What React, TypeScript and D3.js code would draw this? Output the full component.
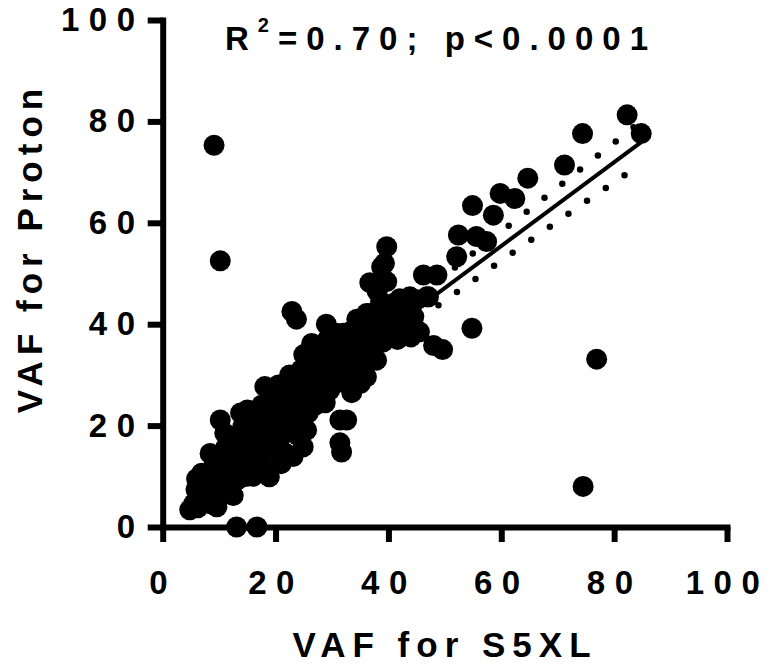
import React, { useEffect, useRef } from 'react';
import * as d3 from 'd3';

const xTicks = [0, 20, 40, 60, 80, 100];
const yTicks = [0, 20, 40, 60, 80, 100];

// [VAF for S5XL, VAF for Proton]
const denseCluster: [number, number][] = [
  [4.8, 3.4], [5.5, 4.6], [6.2, 3.8], [6.5, 6.2], [7.2, 5.0], [7.0, 8.0], [5.9, 7.4], [8.0, 6.6], [8.3, 4.6],
  [7.6, 9.6], [8.4, 14.5], [6.9, 10.6], [9.0, 8.2], [6.0, 9.5], [8.8, 11.5],
  [9.6, 4.0], [9.5, 10.8], [10.2, 21.1], [10.5, 13.5], [10.8, 9.0], [11.2, 6.8], [11.5, 16.5], [12.0, 11.5],
  [12.5, 6.2], [12.2, 14.0], [9.8, 12.5], [11.0, 18.5], [10.0, 7.0], [12.8, 9.0],
  [13.2, 17.8], [13.8, 22.5], [13.5, 9.5], [14.0, 12.5], [14.5, 15.0], [14.9, 10.0], [15.2, 18.0], [15.5, 20.5],
  [14.2, 19.8], [16.0, 13.0], [16.2, 16.5], [15.0, 23.1], [14.0, 16.5], [16.0, 10.0],
  [16.8, 21.5], [17.0, 19.0], [17.5, 24.0], [17.8, 14.8], [18.1, 27.7], [18.5, 17.0], [18.7, 11.2], [18.9, 9.9],
  [19.2, 22.5], [19.5, 26.0], [19.8, 19.5], [17.2, 12.0], [18.0, 20.5], [19.0, 15.2], [16.5, 19.0],
  [20.2, 23.5], [20.5, 28.0], [20.8, 17.5], [21.2, 21.0], [21.5, 25.5], [21.8, 14.5], [22.2, 19.0], [22.5, 30.0],
  [22.8, 24.0], [23.1, 13.9], [23.4, 27.0], [23.8, 21.5], [20.0, 20.0], [21.0, 12.5], [20.5, 15.5],
  [24.2, 25.0], [24.5, 31.0], [24.9, 15.8], [25.2, 28.5], [25.5, 19.1], [25.8, 22.5], [26.2, 33.0], [26.6, 27.0],
  [27.0, 24.0], [27.4, 30.5], [27.8, 26.5], [24.0, 18.0], [25.0, 34.0], [26.4, 36.2], [26.0, 30.0],
  [28.2, 29.0], [28.5, 33.5], [28.8, 24.5], [29.2, 37.0], [29.6, 27.0], [30.0, 31.5], [30.4, 35.0], [30.8, 38.2],
  [31.0, 28.5], [31.4, 33.0], [32.0, 38.2], [29.0, 40.0], [28.0, 31.0], [30.0, 29.0],
  [32.4, 31.0], [32.8, 35.5], [33.2, 38.5], [33.6, 29.5], [34.0, 33.5], [34.4, 41.0], [34.8, 36.5], [35.0, 28.3],
  [35.4, 32.0], [35.8, 39.0], [36.1, 42.1], [36.1, 29.6], [33.5, 26.5], [36.0, 35.0], [32.0, 34.0], [34.5, 37.5],
  [36.7, 42.1], [37.0, 37.5], [37.4, 33.5], [37.9, 32.9], [38.2, 40.0], [38.6, 44.5], [39.1, 36.5], [39.5, 41.5],
  [39.4, 38.5], [38.0, 46.5], [37.5, 39.0],
  [40.3, 43.0], [40.9, 44.1], [41.2, 39.5], [41.6, 37.0], [42.0, 42.0], [42.5, 38.0], [43.0, 44.0], [43.8, 45.4],
  [43.5, 40.0], [44.5, 41.5], [45.0, 44.8], [46.8, 45.4], [47.1, 45.4], [45.5, 38.5], [44.0, 37.5], [40.5, 40.0],
  [42.0, 45.0],
];

const upperPoints: [number, number][] = [
  [36.7, 48.2], [38.8, 51.3], [39.7, 48.4], [39.7, 55.3], [39.3, 52.0],
  [46.2, 49.7], [48.6, 49.7], [52.4, 57.6], [55.6, 57.3], [57.4, 56.3], [52.1, 53.3], [54.9, 63.4],
  [58.6, 61.5], [59.8, 65.8], [62.4, 64.8], [64.7, 68.8], [71.2, 71.4], [74.4, 77.6], [82.3, 81.3], [84.8, 77.6],
];

const offDiagonal: [number, number][] = [
  [22.9, 42.5], [23.7, 41.0], [31.4, 21.1], [32.6, 21.1], [31.4, 16.6], [31.7, 14.8],
  [48.0, 35.8], [49.6, 35.0], [54.8, 39.2],
  [9.1, 75.3], [10.2, 52.5], [13.1, 0], [16.7, 0], [76.9, 33.1], [74.5, 8.0],
];

// linear fit and its 95% confidence band
const fitX = [4.8, 84.8];
const fitY = [9.8, 75.9];
const bandX = [10, 15, 25, 35, 45, 55, 65, 75, 85];
const bandUpper = [16.2, 20.2, 28.4, 36.7, 45.3, 54.0, 62.6, 71.4, 80.2];
const bandLower = [11.9, 16.2, 24.6, 32.7, 40.7, 48.6, 56.4, 64.2, 71.8];

const FONT = '"Liberation Sans", Arial, Helvetica, sans-serif';

const App = () => {
  const svgRef = useRef<SVGSVGElement>(null);

  useEffect(() => {
    const width = 776;
    const height = 664;

    d3.select(svgRef.current).selectAll('*').remove();

    const svg = d3.select(svgRef.current)
      .attr('width', width)
      .attr('height', height);

    const x = d3.scaleLinear().domain([0, 100]).range([162.7, 727]);
    const y = d3.scaleLinear().domain([0, 100]).range([527, 20]);

    const styleAxis = (g: d3.Selection<SVGGElement, unknown, null, undefined>) => {
      g.select('.domain')
        .attr('stroke', '#000')
        .attr('stroke-width', 6)
        .attr('stroke-linecap', 'square');
      g.selectAll('.tick line')
        .attr('stroke', '#000')
        .attr('stroke-width', 6);
      g.selectAll('.tick text')
        .attr('fill', '#000')
        .attr('font-family', FONT)
        .attr('font-weight', 'bold')
        .attr('font-size', 33)
        .attr('letter-spacing', 9.5);
    };

    // x axis
    const gx = svg.append('g')
      .attr('transform', `translate(0, ${y(0)})`)
      .call(d3.axisBottom(x).tickValues(xTicks).tickSize(15).tickSizeOuter(0).tickPadding(28.6).tickFormat(d3.format('d')));
    styleAxis(gx);

    // y axis
    const gy = svg.append('g')
      .attr('transform', `translate(${x(0)}, 0)`)
      .call(d3.axisLeft(y).tickValues(yTicks).tickSize(15).tickSizeOuter(0).tickPadding(3.2).tickFormat(d3.format('d')));
    styleAxis(gy);

    // fit line + confidence band
    const fitLine = d3.line<number>()
      .x((d) => x(d))
      .y((_, i) => y(fitY[i]));
    svg.append('path')
      .attr('d', fitLine(fitX))
      .attr('fill', 'none')
      .attr('stroke', '#000')
      .attr('stroke-width', 4);

    [bandUpper, bandLower].forEach((band) => {
      const bandLine = d3.line<number>()
        .x((d) => x(d))
        .y((_, i) => y(band[i]));
      svg.append('path')
        .attr('d', bandLine(bandX))
        .attr('fill', 'none')
        .attr('stroke', '#000')
        .attr('stroke-width', 6.5)
        .attr('stroke-linecap', 'round')
        .attr('stroke-dasharray', '0 22.7');
    });

    // points
    const allPoints = [...denseCluster, ...upperPoints, ...offDiagonal];
    svg.append('g')
      .selectAll('circle')
      .data(allPoints)
      .join('circle')
      .attr('cx', (d) => x(d[0]))
      .attr('cy', (d) => y(d[1]))
      .attr('r', 10.5)
      .attr('fill', '#000');

    // title
    const title = svg.append('text')
      .attr('x', 225)
      .attr('y', 50)
      .attr('font-family', FONT)
      .attr('font-weight', 'bold')
      .attr('font-size', 33)
      .attr('letter-spacing', 9)
      .attr('fill', '#000');
    title.append('tspan').text('R');
    title.append('tspan').attr('font-size', 20).attr('dy', -18).text('2');
    title.append('tspan').attr('dy', 18).text('=0.70; p<0.0001');

    // axis titles
    svg.append('text')
      .attr('x', 445)
      .attr('y', 657)
      .attr('text-anchor', 'middle')
      .attr('font-family', FONT)
      .attr('font-weight', 'bold')
      .attr('font-size', 35)
      .attr('letter-spacing', 7)
      .attr('fill', '#000')
      .text('VAF for S5XL');

    svg.append('text')
      .attr('transform', 'translate(42, 248) rotate(-90)')
      .attr('text-anchor', 'middle')
      .attr('font-family', FONT)
      .attr('font-weight', 'bold')
      .attr('font-size', 35)
      .attr('letter-spacing', 6)
      .attr('fill', '#000')
      .text('VAF for Proton');
  }, []);

  return (
    <div style={{ position: 'absolute', left: 0, top: 0, background: '#fff' }}>
      <svg ref={svgRef} style={{ display: 'block' }}></svg>
    </div>
  );
};

export default App;
